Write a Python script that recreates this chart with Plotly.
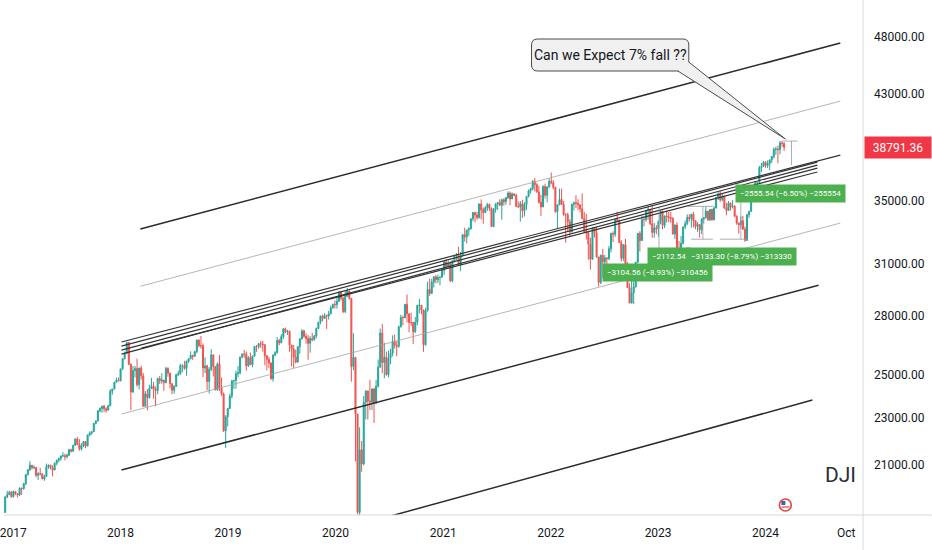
import numpy as np
import pandas as pd
import plotly.graph_objects as go

# Dow Jones Industrial Average, weekly bars (weeks starting 2016-11-28 ... 2024-03-04)
week_start = "2016-11-28"
first_open = 19152

close = [
    # 2016
    19171, 19757, 19843, 19934, 19763,
    # 2017
    19964, 19886, 19827, 20094, 20071, 20269, 20624, 20822, 21005, 20903, 20915, 20596, 20663,
    20656, 20453, 20548, 20941, 21007, 20897, 20805, 21080, 21206, 21272, 21384, 21395, 21350,
    21414, 21638, 21580, 21830, 22093, 21858, 21675, 21814, 21988, 21798, 22268, 22350, 22405,
    22773, 22872, 23329, 23434, 23539, 23422, 23358, 23558, 24232, 24329, 24652, 24754, 24719,
    # 2018
    25296, 25803, 26072, 26616, 25521, 24191, 25219, 25310, 24538, 25336, 24947, 23533, 24103,
    23933, 24360, 24463, 24311, 24263, 24831, 24715, 24753, 24635, 25317, 25090, 24581, 24271,
    24456, 25019, 25058, 25451, 25463, 25313, 25669, 25790, 25965, 25917, 26154, 26743, 26458,
    26447, 25340, 25444, 24688, 25271, 25989, 25413, 24286, 25538, 24389, 24101, 22445, 23062,
    23433,
    # 2019
    23996, 24706, 24737, 25064, 25106, 25883, 26031, 26026, 25450, 25849, 25502, 25929, 26425,
    26412, 26559, 26543, 26505, 25942, 25764, 25586, 24815, 25984, 26090, 26719, 26600, 26922,
    27332, 27154, 27192, 26485, 26287, 25886, 25629, 26403, 26797, 27220, 26935, 26820, 26573,
    26817, 26770, 26958, 27347, 27681, 28005, 27876, 28051, 28015, 28135, 28455, 28645, 28635,
    # 2020
    28824, 29348, 28990, 28256, 29103, 29398, 28992, 25409, 25865, 23186, 19174, 21637, 21053,
    23719, 24242, 23775, 23724, 24331, 23685, 24465, 25383, 27111, 25606, 25871, 25016, 25827,
    26075, 26672, 26470, 26428, 27433, 27931, 27930, 28654, 28133, 27666, 27657, 27174, 27683,
    28587, 28606, 28336, 26502, 28323, 29480, 29263, 29910, 30218, 30046, 30179, 30200, 30606,
    # 2021
    31098, 30814, 30997, 29983, 31148, 31458, 31494, 30932, 31496, 32779, 32628, 33073, 33153,
    33801, 34200, 34043, 33875, 34778, 34382, 34208, 34529, 34756, 34480, 33290, 34433, 34786,
    34870, 34688, 35062, 34935, 35209, 35515, 35120, 35456, 35369, 34607, 34584, 34798, 34326,
    34746, 35295, 35677, 35820, 36328, 36100, 35602, 34899, 34580, 35971, 35365, 35951, 36338,
    # 2022
    36232, 35912, 34265, 34725, 35089, 34738, 34079, 34059, 33615, 32944, 34755, 34862, 34818,
    34721, 34451, 33811, 32977, 32899, 32197, 31262, 33213, 32900, 31393, 29889, 31501, 31097,
    31338, 31289, 31899, 32845, 32803, 33761, 33707, 32283, 31318, 32151, 30822, 29590, 28725,
    29297, 29634, 31082, 32861, 32403, 33748, 33746, 34347, 34430, 33476, 32920, 33204, 33147,
    # 2023
    33631, 34303, 33375, 33978, 33926, 33869, 33827, 32817, 33391, 31910, 31862, 32238, 33274,
    33485, 33887, 33809, 34098, 33674, 33301, 33427, 33093, 33763, 33877, 34299, 33727, 34408,
    33734, 34509, 35228, 35459, 35066, 35281, 34500, 34346, 34838, 34577, 34618, 33964, 33508,
    33407, 33670, 33127, 32418, 34061, 34283, 34947, 35390, 36246, 36248, 37306, 37385, 37690,
    # 2024
    37466, 37593, 37863, 38109, 38654, 38672, 38628, 39131, 39087, 38791.36,
]

high = [
    19225, 19775, 19988, 19987, 19981,
    19999, 19974, 19907, 20125, 20111, 20298, 20639, 20840, 21169, 21010, 20994, 20921, 20727,
    20887, 20677, 20617, 21070, 21029, 21010, 20994, 21112, 21225, 21305, 21392, 21535, 21475,
    21480, 21681, 21681, 21843, 22118, 22179, 22085, 21920, 22000, 21990, 22275, 22419, 22416,
    22777, 22905, 23368, 23485, 23557, 23602, 23484, 23602, 24327, 24330, 24669, 24876, 24872,
    25299, 25804, 26153, 26617, 26620, 25560, 25432, 25441, 25800, 25352, 25449, 25091, 24240,
    24331, 24533, 24858, 24665, 24453, 24868, 24952, 25086, 24772, 25402, 25374, 25105, 24600,
    24507, 25052, 25216, 25552, 25522, 25692, 25711, 25816, 26167, 26000, 26188, 26770, 26769,
    26952, 26572, 25865, 25495, 25380, 26277, 26000, 25420, 25615, 25980, 24873, 24168, 23138,
    23466,
    24109, 24766, 24765, 25202, 25439, 25883, 26052, 26241, 26156, 25925, 26109, 25949, 26426,
    26488, 26565, 26696, 26695, 26510, 25980, 25902, 25620, 26008, 26175, 26907, 26800, 27054,
    27352, 27398, 27269, 27252, 26498, 26487, 26254, 26427, 26860, 27306, 27280, 27079, 26998,
    26946, 27120, 27005, 27400, 27693, 28036, 28090, 28174, 28069, 28290, 28582, 28701, 28873,
    29009, 29374, 29373, 29065, 29408, 29568, 29409, 29000, 27102, 25865, 23186, 22595, 22008,
    24008, 24265, 24250, 24764, 24365, 24390, 24767, 25758, 27338, 27580, 26610, 26154, 26205,
    26290, 26986, 27026, 26681, 27498, 28087, 28045, 28674, 29199, 28150, 28196, 27701, 27960,
    28638, 28958, 28608, 28360, 28459, 29933, 30116, 30105, 30232, 30319, 30343, 30233, 30637,
    31193, 31272, 31188, 31125, 31210, 31469, 31637, 32010, 31698, 32794, 33227, 33081, 33258,
    33810, 34256, 34260, 34257, 34811, 35091, 34530, 34631, 34849, 34793, 34548, 34504, 34821,
    34894, 35091, 35132, 35172, 35254, 35632, 35631, 35561, 35515, 35462, 34955, 34980, 35066,
    34890, 35297, 35765, 35893, 36432, 36565, 36204, 36025, 35399, 36060, 36173, 35971, 36530,
    36952, 36417, 35959, 34747, 35824, 35825, 34980, 34163, 34195, 33763, 34788, 34941, 35372,
    35097, 34745, 35492, 34257, 34117, 33024, 32584, 33234, 33274, 33272, 31400, 31534, 31885,
    31512, 31386, 32071, 32910, 32987, 33777, 34281, 33740, 32427, 32159, 32504, 31092, 29839,
    30092, 30118, 31083, 32889, 32999, 33987, 33957, 34363, 34595, 34450, 34712, 33519, 33387,
    33677, 34342, 34326, 34020, 34335, 34254, 34245, 33900, 33431, 33572, 32384, 32690, 33274,
    33683, 34082, 34094, 34104, 34257, 33704, 33591, 33438, 33838, 33895, 34588, 34320, 34427,
    34466, 34630, 35242, 35578, 35679, 35472, 35358, 34860, 34979, 34885, 35033, 34702, 34024,
    33563, 33959, 33989, 33295, 34136, 34325, 35020, 35410, 36260, 36312, 37430, 37641, 37778,
    37770, 37830, 37893, 38150, 38783, 38839, 38928, 39282, 39282, 39166,
]

low = [
    18980, 19170, 19710, 19843, 19719,
    19740, 19834, 19732, 19794, 19832, 20031, 20206, 20592, 20763, 20834, 20836, 20517, 20412,
    20590, 20453, 20379, 20540, 20853, 20830, 20553, 20805, 20998, 21120, 21185, 21328, 21197,
    21279, 21377, 21524, 21545, 21800, 21843, 21600, 21600, 21743, 21709, 21790, 22212, 22272,
    22400, 22722, 22859, 23255, 23242, 23271, 23243, 23358, 23540, 24067, 24321, 24652, 24690,
    24700, 25251, 25753, 26028, 25490, 23360, 24150, 24876, 24440, 24313, 24783, 23510, 23531,
    23344, 23875, 24349, 23880, 23531, 24084, 24563, 24579, 24245, 24597, 24914, 24355, 24084,
    24112, 24435, 24950, 25012, 25131, 25251, 24965, 25586, 25770, 25739, 25900, 26067, 26375,
    26299, 24899, 25090, 24268, 24122, 25182, 24928, 24269, 24260, 24242, 24007, 22397, 21713,
    22639,
    23400, 23899, 24331, 24350, 24884, 25018, 25810, 25839, 25208, 25390, 25485, 25372, 25900,
    26143, 26302, 26338, 26153, 25471, 25222, 25328, 24780, 24680, 25923, 26060, 26481, 26580,
    26796, 27113, 27000, 26146, 25410, 25339, 25566, 25600, 26039, 26780, 26849, 26550, 25743,
    26098, 26677, 26700, 26829, 27335, 27574, 27726, 27876, 27325, 27823, 28115, 28420, 28419,
    28418, 28791, 28860, 28170, 28170, 29068, 28910, 24681, 25226, 21154, 19094, 18213, 20735,
    21000, 22941, 22941, 23360, 23361, 22789, 23630, 24400, 25340, 25082, 24843, 24963, 24883,
    25523, 25915, 26299, 25924, 26339, 27400, 27518, 27882, 27664, 27145, 27492, 26537, 27114,
    27515, 28159, 28103, 26143, 26450, 28250, 29124, 29254, 29597, 29828, 29853, 29717, 30156,
    30305, 30780, 30751, 29902, 29900, 31070, 31210, 30893, 30547, 31480, 32338, 32224, 32701,
    33100, 33631, 33565, 33728, 33811, 33741, 33473, 34168, 34317, 34305, 33271, 33256, 34198,
    34368, 34652, 33742, 34659, 34731, 35111, 34690, 35115, 35280, 34589, 34495, 33613, 33856,
    33947, 34393, 35217, 35480, 35703, 35630, 35525, 34794, 33986, 34560, 35143, 34883, 35846,
    36127, 35761, 34201, 33150, 34700, 34711, 33990, 32272, 32961, 32632, 32935, 34339, 34507,
    34367, 34224, 33764, 32913, 32467, 31228, 30636, 31228, 32600, 31358, 29653, 29800, 30144,
    30584, 30144, 31204, 31662, 32318, 32636, 33566, 32266, 31118, 31160, 30575, 29569, 28715,
    28700, 28661, 29600, 31023, 31727, 32396, 33293, 33608, 33719, 33389, 32574, 32582, 32812,
    32650, 33445, 33128, 33201, 33555, 33582, 33532, 32788, 32500, 31910, 31430, 31805, 32175,
    33136, 33382, 33624, 33233, 33235, 33124, 32953, 32587, 32820, 33492, 33814, 33678, 33646,
    33666, 33700, 34473, 35039, 34915, 34960, 34480, 34028, 34310, 34338, 34479, 33907, 33407,
    32846, 33165, 33095, 32327, 32400, 33859, 34271, 34896, 35203, 36042, 36145, 36996, 37378,
    37286, 37275, 37122, 37640, 37964, 38248, 37612, 38270, 38827, 38528,
]

last_price = 38791.36

year_ticks = ["2017-01-01", "2018-01-01", "2019-01-01", "2020-01-01", "2021-01-01",
              "2022-01-01", "2023-01-01", "2024-01-01", "2024-10-01"]
year_labels = ["2017", "2018", "2019", "2020", "2021", "2022", "2023", "2024", "Oct"]
price_ticks = [21000, 23000, 25000, 28000, 31000, 35000, 43000, 48000]

# hand-drawn channel / trend lines
line_start_dates = ["2018-03-09", "2018-03-09", "2018-01-04", "2018-01-04", "2018-01-04",
                    "2018-01-04", "2018-03-13", "2018-01-04", "2018-01-04", "2020-06-24"]
line_start_prices = [33134, 29670, 26641, 26434, 26231, 26030, 26332, 23183, 20808, 19003]
line_end_dates = ["2024-09-11", "2024-09-11", "2024-09-11", "2024-06-25", "2024-06-25",
                  "2024-06-25", "2024-06-25", "2024-09-11", "2024-06-29", "2024-06-08"]
line_end_prices = [47448, 42418, 38222, 37709, 37491, 37275, 36989, 33520, 29727, 23817]
line_kinds = ["thick", "thin", "bundle", "bundle", "bundle", "bundle", "bundle", "thin",
              "thick", "thick"]

# price range measurement strokes
measure_start_dates = ["2024-02-28", "2024-03-29", "2023-04-09", "2023-06-02", "2023-04-23",
                       "2023-10-09", "2023-07-30", "2023-01-04"]
measure_start_prices = [39269, 39269, 34617, 34617, 32491, 35565, 32491, 34504]
measure_end_dates = ["2024-04-19", "2024-03-29", "2023-07-06", "2023-06-02", "2023-07-06",
                     "2023-10-09", "2023-11-02", "2023-01-04"]
measure_end_prices = [39269, 37491, 34617, 32491, 32491, 32491, 32491, 31938]

range_labels = ["\u22122112.54",
                "\u22123133.30 (\u22128.79%) \u2212313330",
                "\u22123104.56 (\u22128.93%) \u2212310456",
                "\u22122555.54 (\u22126.50%) \u2212255554"]
callout_text = "Can we Expect 7% fall ??"
symbol = "DJI"

UP = "#26a69a"
DOWN = "#ef5350"
TEXT = "#131722"
FONT = "Roboto"
NARROW = "Liberation Sans Narrow, Roboto"

PLOT_W, PLOT_H = 863, 515


def px(x):
    return x / PLOT_W


def py(y):
    return 1 - y / PLOT_H


dates = pd.date_range(week_start, periods=len(close), freq="7D")
opens = [first_open] + close[:-1]

fig = go.Figure()
fig.add_trace(go.Candlestick(
    x=dates, open=opens, high=high, low=low, close=close,
    increasing=dict(line=dict(color=UP, width=1), fillcolor=UP),
    decreasing=dict(line=dict(color=DOWN, width=1), fillcolor=DOWN),
    whiskerwidth=0, showlegend=False, hoverinfo="skip",
))

styles = {
    "thick": dict(color="#2b2b2b", width=1.5),
    "thin": dict(color="#a3a3a3", width=0.8),
    "bundle": dict(color="#333333", width=1.2),
}
for d0, p0, d1, p1, kind in zip(line_start_dates, line_start_prices,
                                line_end_dates, line_end_prices, line_kinds):
    fig.add_trace(go.Scatter(x=[d0, d1], y=[p0, p1], mode="lines", line=styles[kind],
                             showlegend=False, hoverinfo="skip"))

for d0, p0, d1, p1 in zip(measure_start_dates, measure_start_prices,
                          measure_end_dates, measure_end_prices):
    fig.add_trace(go.Scatter(x=[d0, d1], y=[p0, p1], mode="lines",
                             line=dict(color="#9598a1", width=0.8),
                             showlegend=False, hoverinfo="skip"))


def rounded_rect(x0, y0, x1, y1, r):
    return (f"M {px(x0 + r)},{py(y0)} L {px(x1 - r)},{py(y0)} "
            f"Q {px(x1)},{py(y0)} {px(x1)},{py(y0 + r)} L {px(x1)},{py(y1 - r)} "
            f"Q {px(x1)},{py(y1)} {px(x1 - r)},{py(y1)} L {px(x0 + r)},{py(y1)} "
            f"Q {px(x0)},{py(y1)} {px(x0)},{py(y1 - r)} L {px(x0)},{py(y0 + r)} "
            f"Q {px(x0)},{py(y0)} {px(x0 + r)},{py(y0)} Z")


shapes = [
    # axis separators
    dict(type="line", xref="paper", yref="paper", x0=1, x1=1, y0=py(550), y1=1,
         line=dict(color="#d6d8de", width=1)),
    dict(type="line", xref="paper", yref="paper", x0=0, x1=px(932), y0=0, y1=0,
         line=dict(color="#d6d8de", width=1)),
    # callout
    dict(type="path", xref="paper", yref="paper", path=rounded_rect(530, 39, 688, 71, 6),
         fillcolor="#f0f0f0", line=dict(color="#4a4a4a", width=1)),
    dict(type="path", xref="paper", yref="paper",
         path=f"M {px(677)},{py(71)} L {px(785)},{py(139)} L {px(688)},{py(62)}",
         fillcolor="#f0f0f0", line=dict(color="#4a4a4a", width=1)),
    # flag badge
    dict(type="circle", xref="paper", yref="paper", x0=px(779), x1=px(791),
         y0=py(511), y1=py(499), fillcolor="#ffffff", line=dict(color="#e0443e", width=1.6)),
    dict(type="rect", xref="paper", yref="paper", x0=px(781), x1=px(785),
         y0=py(505), y1=py(501), fillcolor="#3d5fb0", line=dict(width=0)),
    dict(type="line", xref="paper", yref="paper", x0=px(781), x1=px(789),
         y0=py(507), y1=py(507), line=dict(color="#e0443e", width=1.2)),
]

annotations = [
    dict(xref="paper", yref="paper", x=px(609), y=py(55), xanchor="center", yanchor="middle",
         text=callout_text, showarrow=False, font=dict(family=FONT, size=14, color=TEXT)),
    dict(xref="paper", yref="paper", x=px(840), y=py(475), xanchor="center", yanchor="middle",
         text=symbol, showarrow=False, font=dict(family=FONT, size=21, color="#2a2e39")),
    dict(xref="paper", yref="y", x=1, xanchor="left", xshift=1, y=np.log10(last_price),
         yanchor="middle", text=f"{last_price:.2f}", showarrow=False, bgcolor="#f23645",
         borderpad=4, width=58, height=13, font=dict(family=FONT, size=12, color="#ffffff")),
]

label_centers = [(668, 256), (741, 256), (657, 272), (790, 193)]
for text, (cx, cy) in zip(range_labels, label_centers):
    annotations.append(dict(
        xref="paper", yref="paper", x=px(cx), y=py(cy), xanchor="center", yanchor="middle",
        text=text, showarrow=False, bgcolor="#4caf50", borderpad=4,
        font=dict(family=NARROW, size=8, color="#ffffff"),
    ))

fig.update_layout(
    width=932, height=550,
    margin=dict(l=0, r=69, t=0, b=35),
    paper_bgcolor="#ffffff", plot_bgcolor="#ffffff",
    showlegend=False,
    shapes=shapes, annotations=annotations,
    xaxis=dict(
        type="date", range=["2016-12-01", "2024-11-27"],
        tickvals=year_ticks, ticktext=year_labels, ticks="",
        showgrid=False, zeroline=False, showline=False,
        rangeslider=dict(visible=False), ticklabeloverflow="allow",
        ticklabelstandoff=9,
        tickfont=dict(family=FONT, size=12, color=TEXT),
    ),
    yaxis=dict(
        type="log", side="right",
        range=[np.log10(19078), np.log10(51560)],
        tickvals=price_ticks, ticktext=[f"{v:.2f}" for v in price_ticks], ticks="",
        showgrid=False, zeroline=False, showline=False, ticklabelstandoff=10,
        tickfont=dict(family=FONT, size=12, color=TEXT),
    ),
)

# the page's default body margin would shift the chart; remove it
fig.write_html("out.html", config={"displayModeBar": False},
               post_script="document.body.style.margin='0px';")
